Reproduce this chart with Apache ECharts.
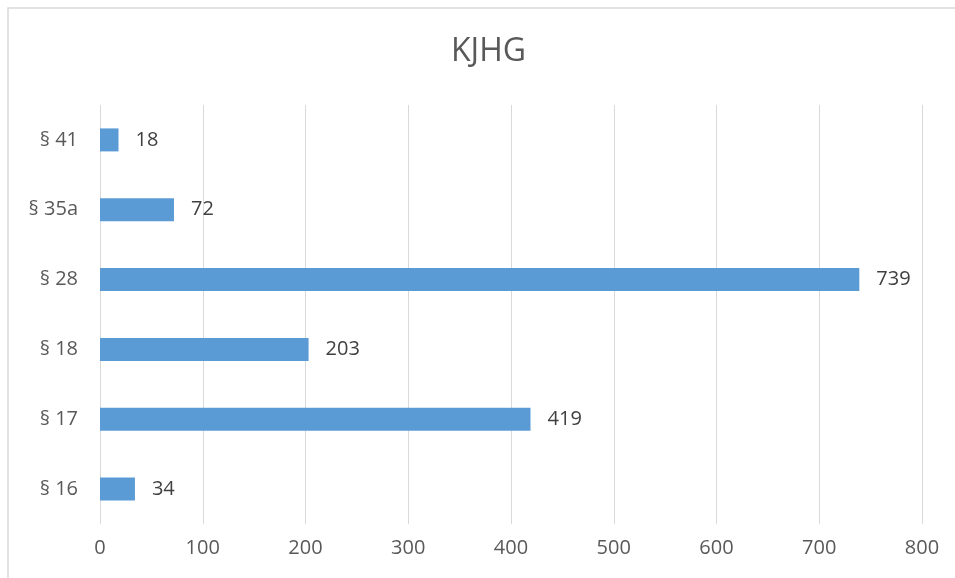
<!DOCTYPE html>
<html>
<head>
<meta charset="utf-8">
<script src="https://cdn.jsdelivr.net/npm/echarts@6/dist/echarts.min.js"></script>
<style>html,body{margin:0;padding:0;background:#fff}#c{width:955px;height:578px}</style>
</head>
<body>
<div id="c"></div>
<script>
var titleText = 'KJHG';
var categories = ['§ 16', '§ 17', '§ 18', '§ 28', '§ 35a', '§ 41'];
var values = [34, 419, 203, 739, 72, 18];
var xTicks = { min: 0, max: 800, interval: 100 };

var chart = echarts.init(document.getElementById('c'), null, { renderer: 'canvas' });
var font = '"Open Sans", "Noto Sans", sans-serif';
chart.setOption({
  animation: false,
  backgroundColor: '#fff',
  graphic: [{
    type: 'polyline',
    shape: { points: [[8, 578], [8, 8], [955, 8]] },
    style: { stroke: '#d9d9d9', lineWidth: 1.5, fill: null },
    silent: true
  }],
  title: {
    text: titleText,
    left: 446,
    top: 31,
    textStyle: { fontFamily: font, fontSize: 32, fontWeight: 'normal', color: '#595959' }
  },
  grid: { left: 100, right: 33, top: 105, bottom: 54, containLabel: false },
  xAxis: {
    type: 'value',
    min: xTicks.min, max: xTicks.max, interval: xTicks.interval,
    axisLine: { show: false },
    axisTick: { show: false },
    axisLabel: { fontFamily: font, fontSize: 20, color: '#595959', margin: 14 },
    splitLine: { show: true, lineStyle: { color: '#d9d9d9', width: 1 } }
  },
  yAxis: {
    type: 'category',
    data: categories,
    axisLine: { show: false },
    axisTick: { show: false },
    axisLabel: { fontFamily: font, fontSize: 20, color: '#595959', margin: 22 }
  },
  series: [{
    type: 'bar',
    data: values,
    barWidth: 23,
    itemStyle: { color: '#5b9bd5' },
    label: {
      show: true,
      position: 'right',
      distance: 17,
      fontFamily: font,
      fontSize: 20,
      color: '#404040'
    }
  }]
});
</script>
</body>
</html>
